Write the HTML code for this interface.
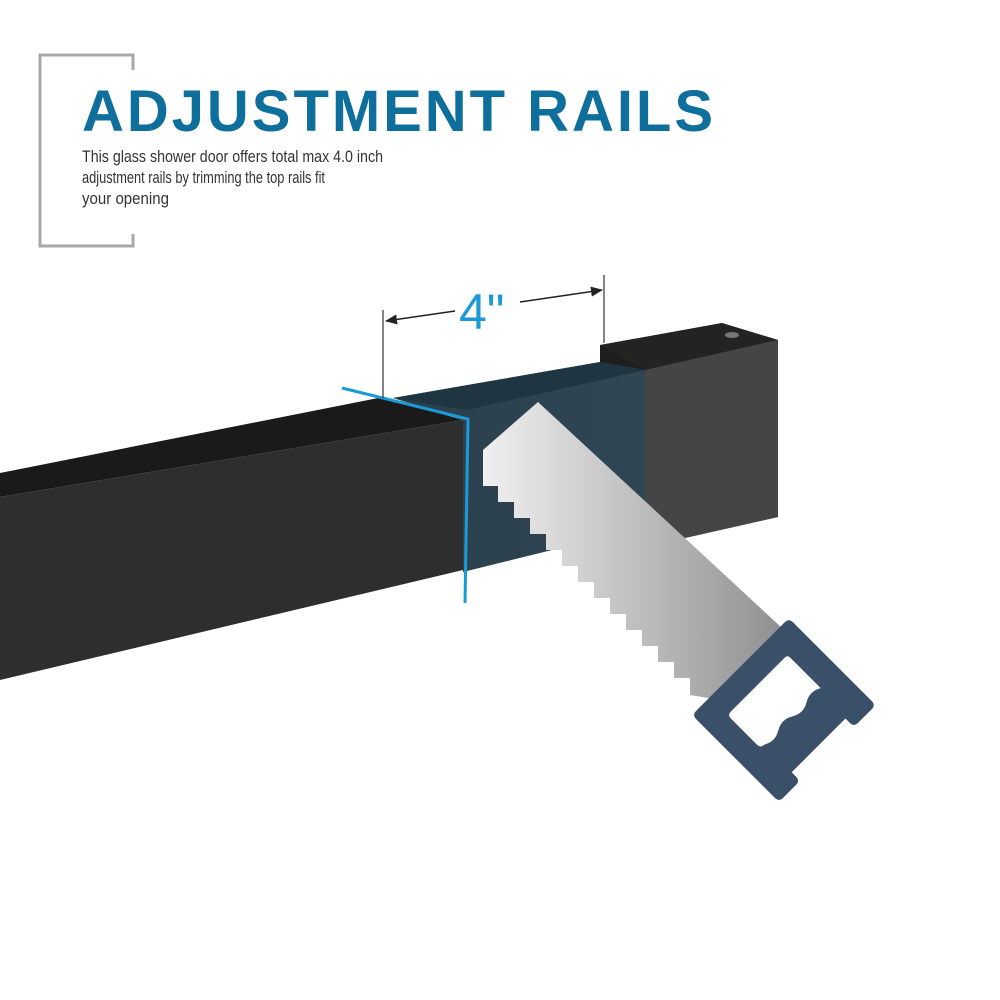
<!DOCTYPE html>
<html><head><meta charset="utf-8"><style>
html,body{margin:0;padding:0;background:#fff;}
svg{display:block;}
</style></head><body>
<svg width="1000" height="1000" viewBox="0 0 1000 1000" xmlns="http://www.w3.org/2000/svg">
<defs>
<linearGradient id="blade" x1="0" y1="0" x2="1" y2="0">
<stop offset="0" stop-color="#f0f0f0"/><stop offset="1" stop-color="#8c8c8c"/>
</linearGradient>
<linearGradient id="cut" x1="0" y1="0" x2="1" y2="0">
<stop offset="0" stop-color="#2a3f4c"/><stop offset="1" stop-color="#2f4654"/>
</linearGradient>
<marker id="ar" markerWidth="12" markerHeight="10" refX="11" refY="5" orient="auto" markerUnits="userSpaceOnUse">
<path d="M0,0 L12,5 L0,10 Z" fill="#222"/>
</marker>
</defs>
<rect width="1000" height="1000" fill="#fff"/>

<!-- bracket -->
<path d="M133,70 V55 H40 V246 H133 V234" fill="none" stroke="#a8a8a8" stroke-width="3"/>
<text x="82" y="131" font-family="Liberation Sans, sans-serif" font-weight="bold" font-size="58" fill="#0e6f9c" textLength="631" lengthAdjust="spacing">ADJUSTMENT RAILS</text>
<g font-family="Liberation Sans, sans-serif" font-size="17" fill="#333">
<text x="82" y="162" textLength="301" lengthAdjust="spacingAndGlyphs">This glass shower door offers total max 4.0 inch</text>
<text x="82" y="183" textLength="243" lengthAdjust="spacingAndGlyphs">adjustment rails by trimming the top rails fit</text>
<text x="82" y="204" textLength="87" lengthAdjust="spacingAndGlyphs">your opening</text>
</g>

<!-- end block -->
<polygon points="600,345 722,323 778,340 778,517 645,547 645,370 600,362" fill="#3c3c3c"/>
<polygon points="600,345 722,323 778,340 645,370 600,362" fill="#232323"/>
<polygon points="645,370 778,340 778,517 645,547" fill="#454545"/>
<polygon points="600,345 645,370 645,547 600,550" fill="#1e1e1e"/>
<ellipse cx="732" cy="335" rx="7" ry="3" fill="#777"/>

<!-- cut section -->
<polygon points="393,398 600,362 645,370 645,527 463,572 463,420" fill="url(#cut)"/>
<polygon points="393,398 600,362 645,370 467,410" fill="#1f3642"/>

<!-- left rail -->
<polygon points="0,473 383,397 463,420 0,497" fill="#1a1a1a"/>
<polygon points="0,497 463,420 463,570 0,680" fill="#2e2e2e"/>

<!-- blue cut line -->
<path d="M342,388 L468,419 L465,603" fill="none" stroke="#1a9ad6" stroke-width="3"/>

<!-- dimension -->
<line x1="383" y1="310" x2="383" y2="398" stroke="#333" stroke-width="1.2"/>
<line x1="604" y1="275" x2="604" y2="343" stroke="#333" stroke-width="1.2"/>
<line x1="455" y1="311" x2="386" y2="321" stroke="#222" stroke-width="1.5" marker-end="url(#ar)"/>
<line x1="520" y1="302" x2="602" y2="290" stroke="#222" stroke-width="1.5" marker-end="url(#ar)"/>
<text x="459" y="329" font-family="Liberation Sans, sans-serif" font-size="50" fill="#1a9ad6">4"</text>

<!-- saw blade -->
<polygon points="538,402 795,640 720,700 690,695 690,678 674,678 674,662 658,662 658,646 642,646 642,630 626,630 626,614 610,614 610,598 594,598 594,582 578,582 578,566 562,566 562,550 546,550 546,534 530,534 530,518 514,518 514,502 498,502 498,486 483,486 483,450" fill="url(#blade)"/>

<!-- handle -->
<g transform="translate(692,715) rotate(-45)">
<path d="M6,0 H131 Q137,0 137,6 V117 Q137,123 131,123 H112 Q106,123 106,117 V111 H30 V117 Q30,123 24,123 H6 Q0,123 0,117 V6 Q0,0 6,0 Z" fill="#3a5068"/>
<path d="M30,25 H106 Q110,25 110,29 V72 Q100,66 90,72 Q80,78 70,72 Q60,66 50,72 Q40,78 30,72 Q25,72 25,67 V30 Q25,25 30,25 Z" fill="#fff"/>
</g>
</svg>
</body></html>
